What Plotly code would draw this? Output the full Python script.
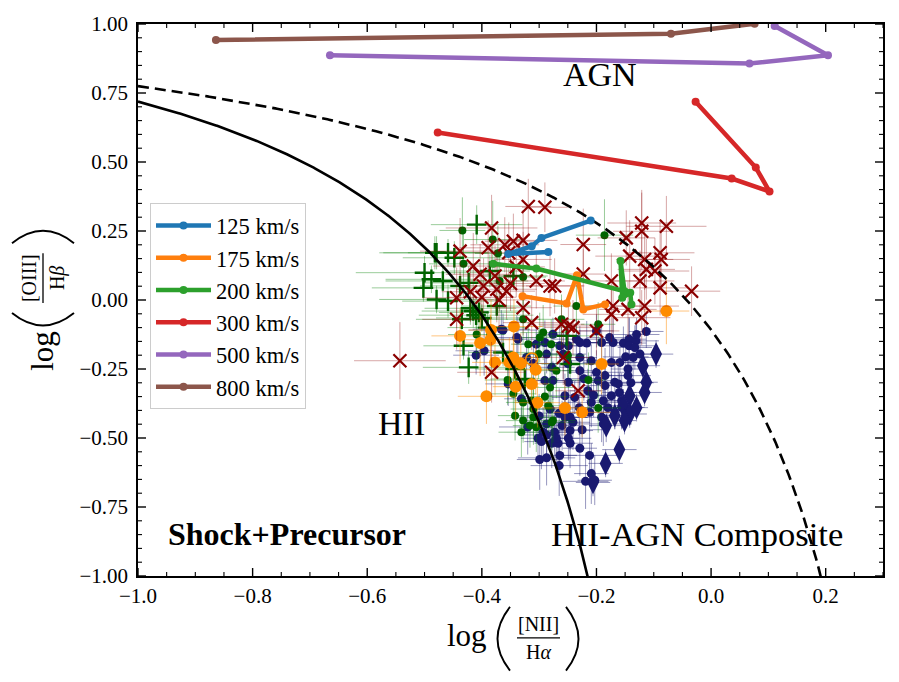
import plotly.graph_objects as go
import numpy as np

# ---------------- data ----------------
# navy circles
navy_x = [-0.113,-0.217,-0.191,-0.171,-0.153,-0.143,-0.131,-0.143,-0.124,-0.149,
          -0.136,-0.159,-0.174,-0.209,-0.229,-0.235,-0.264,-0.276,-0.258,-0.229,
          -0.200,-0.185,-0.145,-0.145,-0.168,-0.162,-0.197,-0.215,-0.249,-0.276,
          -0.255,-0.238,-0.209,-0.188,-0.174,-0.156,-0.212,-0.191,-0.168,-0.156,
          -0.278,-0.246,-0.363,-0.337,-0.410,-0.396,-0.305,-0.290,-0.287,-0.290,
          -0.354,-0.331,-0.281,-0.296,-0.287,-0.278,-0.299,-0.287,-0.267,-0.246,
          -0.229,-0.249,-0.212,-0.209,-0.219,-0.203,-0.188,-0.287,-0.273,-0.255,
          -0.241,-0.246,-0.293,-0.302,-0.270,-0.264,-0.130,-0.366,-0.339,-0.200,
          -0.177,-0.133,-0.229,-0.249,-0.322,-0.310,-0.250,-0.222,-0.185,-0.160,
          -0.205,-0.230,-0.265,-0.300,-0.320,-0.260,-0.225,-0.180,-0.140,-0.265]
navy_y = [-0.114,-0.156,-0.154,-0.154,-0.156,-0.142,-0.148,-0.166,-0.196,-0.206,
          -0.208,-0.226,-0.226,-0.220,-0.208,-0.142,-0.166,-0.124,-0.196,-0.256,
          -0.262,-0.274,-0.250,-0.274,-0.298,-0.304,-0.292,-0.329,-0.298,-0.292,
          -0.347,-0.353,-0.371,-0.365,-0.347,-0.365,-0.407,-0.425,-0.407,-0.389,
          -0.244,-0.425,-0.109,-0.142,-0.200,-0.184,-0.160,-0.154,-0.196,-0.292,
          -0.304,-0.358,-0.395,-0.513,-0.489,-0.519,-0.578,-0.572,-0.519,-0.519,
          -0.537,-0.501,-0.563,-0.629,-0.657,-0.653,-0.449,-0.449,-0.479,-0.425,
          -0.443,-0.473,-0.479,-0.501,-0.501,-0.563,-0.125,-0.106,-0.136,-0.112,
          -0.136,-0.172,-0.154,-0.166,-0.208,-0.230,-0.230,-0.285,-0.310,-0.335,
          -0.345,-0.390,-0.410,-0.420,-0.460,-0.455,-0.470,-0.390,-0.300,-0.600]
navy_ex = [0.03,0.04,0.03,0.05,0.04,0.03,0.04,0.05,0.03,0.04,
           0.04,0.03,0.05,0.04,0.03,0.04,0.05,0.03,0.04,0.03,
           0.05,0.04,0.03,0.04,0.05,0.03,0.04,0.03,0.05,0.04,
           0.03,0.04,0.05,0.03,0.04,0.03,0.04,0.05,0.03,0.04,
           0.04,0.03,0.06,0.05,0.04,0.05,0.04,0.03,0.04,0.05,
           0.04,0.03,0.04,0.03,0.04,0.03,0.04,0.05,0.03,0.04,
           0.03,0.04,0.05,0.03,0.04,0.03,0.05,0.04,0.03,0.04,
           0.03,0.04,0.05,0.03,0.04,0.03,0.04,0.05,0.04,0.03,
           0.04,0.03,0.05,0.04,0.03,0.04,0.05,0.03,0.04,0.03,
           0.04,0.05,0.03,0.04,0.05,0.03,0.04,0.03,0.04,0.05]
navy_ey = [0.06,0.08,0.07,0.09,0.06,0.08,0.07,0.10,0.06,0.08,
           0.09,0.07,0.08,0.06,0.10,0.07,0.08,0.06,0.09,0.07,
           0.08,0.10,0.06,0.08,0.07,0.09,0.06,0.08,0.10,0.07,
           0.08,0.06,0.09,0.07,0.08,0.10,0.07,0.09,0.06,0.08,
           0.07,0.10,0.06,0.08,0.07,0.09,0.06,0.08,0.07,0.10,
           0.08,0.07,0.09,0.10,0.08,0.09,0.11,0.10,0.08,0.09,
           0.10,0.08,0.09,0.11,0.10,0.09,0.08,0.07,0.09,0.08,
           0.10,0.07,0.09,0.08,0.10,0.09,0.06,0.07,0.08,0.06,
           0.07,0.08,0.06,0.07,0.09,0.08,0.07,0.08,0.09,0.07,
           0.08,0.10,0.09,0.08,0.10,0.09,0.08,0.07,0.08,0.11]

# navy diamonds
dia_x = [-0.096,-0.119,-0.113,-0.116,-0.142,-0.153,-0.168,-0.142,-0.151,-0.183,-0.160,-0.184,-0.206,-0.130]
dia_y = [-0.196,-0.238,-0.298,-0.335,-0.347,-0.383,-0.419,-0.413,-0.437,-0.455,-0.542,-0.592,-0.661,-0.390]
dia_ex = [0.03,0.03,0.02,0.03,0.03,0.02,0.03,0.03,0.02,0.03,0.03,0.03,0.03,0.02]
dia_ey = [0.05,0.05,0.06,0.05,0.05,0.06,0.05,0.05,0.05,0.06,0.05,0.05,0.05,0.05]

# dark green circles
gc_x = [-0.434,-0.381,-0.372,-0.432,-0.328,-0.369,-0.186,-0.235,-0.328,-0.293,
        -0.319,-0.301,-0.270,-0.345,-0.328,-0.310,-0.342,-0.281,-0.284,-0.261,
        -0.197,-0.279,-0.214,-0.197,-0.328,-0.310,-0.305,-0.276,-0.313,-0.331,
        -0.316,-0.278,-0.299,-0.409,-0.355,-0.250,-0.290]
gc_y = [0.252,0.219,0.169,0.131,0.083,0.069,0.235,-0.022,-0.070,-0.118,
        -0.160,-0.196,-0.256,-0.340,-0.371,-0.395,-0.419,-0.317,-0.383,-0.070,
        -0.088,-0.160,-0.290,-0.391,-0.437,-0.425,-0.461,-0.437,-0.365,-0.479,
        -0.455,-0.443,-0.136,-0.125,-0.290,-0.200,-0.350]
gc_ex = [0.04,0.05,0.04,0.06,0.04,0.05,0.05,0.04,0.03,0.04,
         0.03,0.04,0.03,0.04,0.03,0.04,0.03,0.04,0.03,0.04,
         0.03,0.04,0.03,0.04,0.03,0.04,0.03,0.04,0.03,0.04,
         0.03,0.04,0.03,0.05,0.04,0.03,0.04]
gc_ey = [0.12,0.14,0.10,0.12,0.10,0.11,0.13,0.10,0.09,0.10,
         0.08,0.09,0.10,0.09,0.08,0.10,0.09,0.08,0.10,0.09,
         0.08,0.09,0.10,0.09,0.08,0.10,0.09,0.08,0.10,0.09,
         0.08,0.10,0.09,0.10,0.09,0.08,0.09]

# dark green plus
gp_x = [-0.409,-0.479,-0.459,-0.448,-0.500,-0.488,-0.468,-0.502,-0.438,-0.423,
        -0.479,-0.459,-0.374,-0.415,-0.405,-0.420,-0.410,-0.386,-0.345,-0.435,
        -0.432,-0.423,-0.363,-0.342,-0.325,-0.246,-0.252,-0.400,-0.390,-0.482]
gp_y = [0.273,0.171,0.171,0.153,0.099,0.075,0.069,0.044,0.051,0.062,
        0.002,-0.004,-0.022,-0.040,-0.045,-0.030,-0.055,0.105,0.087,-0.070,
        -0.166,-0.244,-0.190,-0.250,-0.286,-0.232,-0.130,-0.065,-0.100,0.171]
gp_ex = [0.08,0.10,0.07,0.09,0.12,0.08,0.10,0.09,0.07,0.08,
         0.10,0.08,0.06,0.09,0.07,0.08,0.10,0.07,0.06,0.08,
         0.07,0.08,0.06,0.07,0.06,0.05,0.05,0.08,0.07,0.09]
gp_ey = [0.07,0.06,0.05,0.06,0.06,0.05,0.06,0.05,0.05,0.06,
         0.05,0.06,0.05,0.06,0.05,0.06,0.05,0.06,0.05,0.06,
         0.05,0.06,0.05,0.06,0.05,0.05,0.06,0.05,0.06,0.06]

# orange circles
or_x = [-0.438,-0.403,-0.385,-0.384,-0.344,-0.377,-0.352,-0.345,-0.332,-0.306,
        -0.313,-0.341,-0.392,-0.303,-0.191,-0.255,-0.225,-0.078]
or_y = [-0.130,-0.156,-0.144,-0.109,-0.096,-0.226,-0.226,-0.208,-0.230,-0.253,
        -0.304,-0.314,-0.349,-0.372,-0.232,-0.391,-0.407,-0.040]
or_ex = [0.05,0.04,0.05,0.04,0.05,0.04,0.03,0.04,0.05,0.04,
         0.03,0.04,0.05,0.04,0.03,0.04,0.05,0.04]
or_ey = [0.10,0.12,0.09,0.11,0.10,0.12,0.09,0.10,0.11,0.09,
         0.10,0.12,0.10,0.09,0.11,0.10,0.09,0.12]
orh_x = [-0.313]
orh_y = [-0.214]

# dark red crosses
rx_x = [-0.319,-0.290,-0.383,-0.345,-0.328,-0.438,-0.389,-0.353,-0.328,-0.415,
        -0.403,-0.397,-0.374,-0.357,-0.444,-0.305,-0.281,-0.328,-0.377,-0.313,
        -0.261,-0.241,-0.223,-0.383,-0.148,-0.121,-0.121,-0.078,-0.142,-0.116,
        -0.089,-0.087,-0.113,-0.098,-0.174,-0.124,-0.089,-0.034,-0.273,-0.223,
        -0.171,-0.116,-0.145,-0.543,-0.444,-0.249,-0.200,-0.174,-0.121,-0.258,
        -0.232,-0.360,-0.340,-0.400,-0.370,-0.350,-0.420]
rx_y = [0.339,0.336,0.261,0.213,0.216,0.177,0.189,0.171,0.147,0.123,
        0.093,0.051,0.039,0.032,0.008,0.069,0.051,-0.028,0.087,-0.082,
        -0.088,-0.100,0.201,-0.262,0.225,0.279,0.249,0.267,0.159,0.147,
        0.171,0.147,0.111,0.105,0.069,0.069,0.044,0.032,0.051,0.094,
        -0.022,-0.022,-0.034,-0.220,-0.070,-0.094,-0.112,-0.052,-0.064,-0.208,
        -0.329,0.200,0.120,0.010,0.000,0.060,0.030]
rx_ex = [0.04,0.04,0.08,0.05,0.06,0.07,0.05,0.06,0.05,0.07,
         0.06,0.05,0.07,0.05,0.06,0.05,0.06,0.05,0.06,0.05,
         0.04,0.05,0.04,0.06,0.05,0.06,0.05,0.07,0.06,0.05,
         0.06,0.05,0.05,0.06,0.05,0.06,0.05,0.05,0.05,0.04,
         0.05,0.06,0.05,0.08,0.06,0.05,0.04,0.05,0.05,0.05,
         0.04,0.06,0.05,0.06,0.05,0.06,0.05]
rx_ey = [0.10,0.09,0.12,0.10,0.11,0.12,0.10,0.11,0.10,0.12,
         0.11,0.10,0.12,0.10,0.11,0.10,0.11,0.10,0.11,0.10,
         0.09,0.10,0.13,0.11,0.10,0.12,0.14,0.11,0.13,0.11,
         0.12,0.10,0.11,0.12,0.10,0.11,0.10,0.09,0.10,0.09,
         0.10,0.11,0.10,0.14,0.11,0.10,0.09,0.10,0.10,0.10,
         0.09,0.10,0.11,0.10,0.11,0.10,0.11]

# shock+precursor model tracks
v125_x = [-0.210,-0.296,-0.313,-0.354,-0.284]
v125_y = [0.288,0.225,0.195,0.167,0.174]
v175_x = [-0.329,-0.252,-0.234,-0.223,-0.185]
v175_y = [0.014,-0.013,0.090,-0.034,-0.016]
v200_x = [-0.380,-0.305,-0.151,-0.158,-0.155,-0.141,-0.139]
v200_y = [0.131,0.114,0.032,0.141,0.008,0.026,-0.016]
v300_x = [-0.027,0.078,0.102,0.036,-0.477]
v300_y = [0.718,0.480,0.393,0.440,0.607]
v500_x = [-0.665,0.067,0.204,0.111]
v500_y = [0.887,0.857,0.887,0.993]
v800_x = [-0.864,-0.070,0.076]
v800_y = [0.942,0.965,1.001]

model_names = ["125 km/s", "175 km/s", "200 km/s", "300 km/s", "500 km/s", "800 km/s"]
model_colors = ["#1f77b4", "#ff7f0e", "#2ca02c", "#d62728", "#9467bd", "#8c564b"]

X_RANGE = [-1.0, 0.3]
Y_RANGE = [-1.0, 1.0]
X_MAJOR = [-1.0, -0.8, -0.6, -0.4, -0.2, 0.0, 0.2]
Y_MAJOR = [-1.0, -0.75, -0.5, -0.25, 0.0, 0.25, 0.5, 0.75, 1.0]

# ---------------- figure ----------------
W, H = 899, 682
L, R, T, B = 138, 16, 22, 106
PW, PH = W - L - R, H - T - B
SERIF = "Liberation Serif"


def pxp(x):
    return (x - L) / PW


def pyp(y):
    return (H - B - y) / PH


fig = go.Figure()


def err(arr, col):
    return dict(type="data", array=arr, color=col, thickness=1, width=0)


NAVY_E = "rgba(25,25,112,0.45)"
GREEN_E = "rgba(0,128,0,0.4)"
fig.add_trace(go.Scatter(x=navy_x, y=navy_y, mode="markers", showlegend=False,
                         marker=dict(color="#191970", size=9),
                         error_x=err(navy_ex, NAVY_E), error_y=err(navy_ey, NAVY_E)))
fig.add_trace(go.Scatter(x=dia_x, y=dia_y, mode="markers", showlegend=False,
                         marker=dict(color="#191970", size=17, symbol="diamond-tall"),
                         error_x=err(dia_ex, NAVY_E), error_y=err(dia_ey, NAVY_E)))
fig.add_trace(go.Scatter(x=gc_x, y=gc_y, mode="markers", showlegend=False,
                         marker=dict(color="#006400", size=8),
                         error_x=err(gc_ex, GREEN_E), error_y=err(gc_ey, GREEN_E)))
fig.add_trace(go.Scatter(x=gp_x, y=gp_y, mode="markers", showlegend=False,
                         marker=dict(color="#006400", size=14, symbol="cross-thin",
                                     line=dict(color="#006400", width=2.4)),
                         error_x=err(gp_ex, GREEN_E), error_y=err(gp_ey, GREEN_E)))
fig.add_trace(go.Scatter(x=or_x, y=or_y, mode="markers", showlegend=False,
                         marker=dict(color="#ff8c00", size=12),
                         error_x=err(or_ex, "rgba(255,140,0,0.5)"),
                         error_y=err(or_ey, "rgba(255,140,0,0.5)")))
fig.add_trace(go.Scatter(x=orh_x, y=orh_y, mode="markers", showlegend=False,
                         marker=dict(color="rgba(0,0,0,0)", size=12,
                                     line=dict(color="#ff8c00", width=1.5))))
fig.add_trace(go.Scatter(x=rx_x, y=rx_y, mode="markers", showlegend=False,
                         marker=dict(color="#8b0000", size=13, symbol="x-thin",
                                     line=dict(color="#8b0000", width=2.2)),
                         error_x=err(rx_ex, "rgba(139,0,0,0.35)"),
                         error_y=err(rx_ey, "rgba(139,0,0,0.35)")))

# demarcation curves (Kauffmann 2003 / Kewley 2001)
kx = np.linspace(-1.0, -0.19, 400)
fig.add_trace(go.Scatter(x=kx, y=0.61 / (kx - 0.05) + 1.3, mode="lines", showlegend=False,
                         line=dict(color="black", width=2.6)))
kwx = np.linspace(-1.0, 0.21, 400)
fig.add_trace(go.Scatter(x=kwx, y=0.61 / (kwx - 0.47) + 1.19, mode="lines", showlegend=False,
                         line=dict(color="black", width=2.6, dash="11px,6px")))

tracks = [(v125_x, v125_y), (v175_x, v175_y), (v200_x, v200_y),
          (v300_x, v300_y), (v500_x, v500_y), (v800_x, v800_y)]
for (tx, ty), name, col in zip(tracks, model_names, model_colors):
    fig.add_trace(go.Scatter(x=tx, y=ty, mode="lines+markers", name=name,
                             line=dict(color=col, width=4.5),
                             marker=dict(color=col, size=8)))

# region labels
fig.add_annotation(x=-0.194, y=0.816, text="AGN", showarrow=False,
                   font=dict(family=SERIF, size=34, color="black"))
fig.add_annotation(x=-0.54, y=-0.448, text="HII", showarrow=False,
                   font=dict(family=SERIF, size=34, color="black"))
fig.add_annotation(x=-0.74, y=-0.848, text="<b>Shock+Precursor</b>", showarrow=False,
                   font=dict(family=SERIF, size=32, color="black"))
fig.add_annotation(x=-0.025, y=-0.848, text="HII-AGN Composite", showarrow=False,
                   font=dict(family=SERIF, size=34.5, color="black"))


# axis titles built from pieces: log ( numerator / denominator )
def ann(xp, yp, text, size, angle=0):
    fig.add_annotation(xref="paper", yref="paper", x=pxp(xp), y=pyp(yp), text=text,
                       showarrow=False, xanchor="center", yanchor="middle", textangle=angle,
                       font=dict(family=SERIF, size=size, color="black"))


def path(p0, c, p1):
    fig.add_shape(type="path", xref="paper", yref="paper",
                  path=f"M {pxp(p0[0])},{pyp(p0[1])} Q {pxp(c[0])},{pyp(c[1])} {pxp(p1[0])},{pyp(p1[1])}",
                  line=dict(color="black", width=1.9))


def seg(p0, p1):
    fig.add_shape(type="line", xref="paper", yref="paper",
                  x0=pxp(p0[0]), y0=pyp(p0[1]), x1=pxp(p1[0]), y1=pyp(p1[1]),
                  line=dict(color="black", width=1.3))


# x title
ann(467, 636, "log", 31)
path((510, 607), (485, 639), (510, 671))
ann(538, 624, "[NII]", 20)
seg((517, 638), (560, 638))
ann(538, 652, "H<i>α</i>", 20)
path((566, 607), (591, 639), (566, 671))

# y title
ann(43, 350, "log", 31, -90)
path((12, 312), (43, 337), (74, 312))
ann(29, 277, "[OIII]", 20, -90)
seg((43, 302), (43, 252))
ann(57, 277, "H<i>β</i>", 20, -90)
path((12, 242), (43, 217), (74, 242))

# inside ticks on all four sides (major + minor), positioned on the axes' scales
MAJ, MIN = 8, 4
x_minor = [v for v in np.round(np.arange(-1.0, 0.3001, 0.05), 3) if v not in np.round(X_MAJOR, 3)]
y_minor = [v for v in np.round(np.arange(-1.0, 1.0001, 0.05), 3) if v not in np.round(Y_MAJOR, 3)]
for vals, ln, wd in ((X_MAJOR, MAJ, 1.4), (x_minor, MIN, 1.1)):
    for v in vals:
        for y0, y1 in ((0, ln / PH), (1, 1 - ln / PH)):
            fig.add_shape(type="line", xref="x", yref="paper", x0=v, x1=v, y0=y0, y1=y1,
                          line=dict(color="black", width=wd))
for vals, ln, wd in ((Y_MAJOR, MAJ, 1.4), (y_minor, MIN, 1.1)):
    for v in vals:
        for x0, x1 in ((0, ln / PW), (1, 1 - ln / PW)):
            fig.add_shape(type="line", xref="paper", yref="y", x0=x0, x1=x1, y0=v, y1=v,
                          line=dict(color="black", width=wd))

TICKFONT = dict(family=SERIF, size=21, color="black")
major = dict(showgrid=False, zeroline=False, showline=True, linecolor="black",
             linewidth=1.5, mirror=True, ticks="", tickfont=TICKFONT)

fig.update_layout(
    width=W, height=H, margin=dict(l=L, r=R, t=T, b=B),
    plot_bgcolor="white", paper_bgcolor="white",
    xaxis=dict(range=X_RANGE, tickvals=X_MAJOR, tickformat=".1f", **major),
    yaxis=dict(range=Y_RANGE, tickvals=Y_MAJOR, tickformat=".2f", ticklabelstandoff=4, **major),
    legend=dict(x=pxp(150), y=pyp(202), xanchor="left", yanchor="top",
                bgcolor="white", bordercolor="#cccccc", borderwidth=1,
                font=dict(family=SERIF, size=22.5, color="black"),
                itemwidth=55),
)

fig.write_html("out.html")
